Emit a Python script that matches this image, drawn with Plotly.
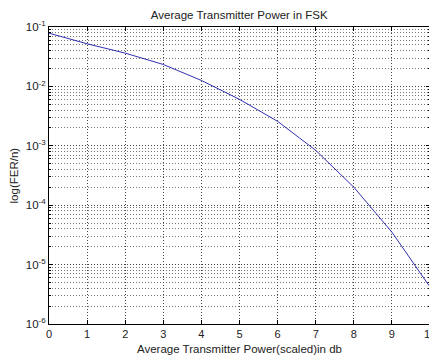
import plotly.graph_objects as go

power_db = [0, 1, 2, 3, 4, 5, 6, 7, 8, 9, 10]
fer = [0.0787, 0.0522, 0.0363, 0.0234, 0.0126, 0.00605, 0.00258, 0.00084, 0.000201, 3.52e-5, 4.19e-6]
x_ticks = list(range(0, 11))
y_tickvals = [1e-6, 1e-5, 1e-4, 1e-3, 1e-2, 1e-1]
y_ticktext = ["10<sup>-6</sup>", "10<sup>-5</sup>", "10<sup>-4</sup>", "10<sup>-3</sup>", "10<sup>-2</sup>", "10<sup>-1</sup>"]

fig = go.Figure()
fig.add_trace(go.Scatter(x=power_db, y=fer, mode="lines",
                         line=dict(color="#3030b0", width=1), showlegend=False))

font = dict(family="Liberation Sans, Arial, sans-serif", size=11, color="#222")
grid_dash = "1px,2px"
fig.update_layout(
    width=429, height=348,
    margin=dict(l=41, r=7, t=18.5, b=32),
    paper_bgcolor="white", plot_bgcolor="white",
    font=font,
    title=dict(text="Average Transmitter Power in FSK", x=0.539, xanchor="center",
               y=0.981, yanchor="middle", font=dict(size=11.5)),
    annotations=[
        dict(text="Average Transmitter Power(scaled)in db", xref="paper", yref="paper",
             x=0.5, y=-0.084, xanchor="center", yanchor="middle", showarrow=False,
             font=dict(size=11.5)),
        dict(text="log(FER/n)", xref="paper", yref="paper", textangle=-90,
             x=-0.092, y=0.5, xanchor="center", yanchor="middle", showarrow=False,
             font=dict(size=11.5)),
    ],
)
fig.update_xaxes(
    range=[0, 10], tickvals=x_ticks, ticks="inside", ticklen=4, tickcolor="black",
    showline=True, linecolor="black", linewidth=1, mirror="allticks",
    showgrid=True, gridcolor="#444", griddash=grid_dash, gridwidth=1,
    zeroline=False, automargin=False, ticklabeloverflow="allow",
    tickfont=dict(size=11),
)
fig.update_yaxes(
    type="log", range=[-6, -1], tickvals=y_tickvals, ticktext=y_ticktext,
    ticks="inside", ticklen=4, tickcolor="black",
    showline=True, linecolor="black", linewidth=1, mirror="allticks",
    showgrid=True, gridcolor="#444", griddash=grid_dash, gridwidth=1,
    minor=dict(dtick="D1", showgrid=True, gridcolor="#777", griddash=grid_dash, gridwidth=1,
               ticks="inside", ticklen=2, tickcolor="black"),
    zeroline=False, automargin=False,
    tickfont=dict(size=11.5),
)
fig.write_html("out.html")
